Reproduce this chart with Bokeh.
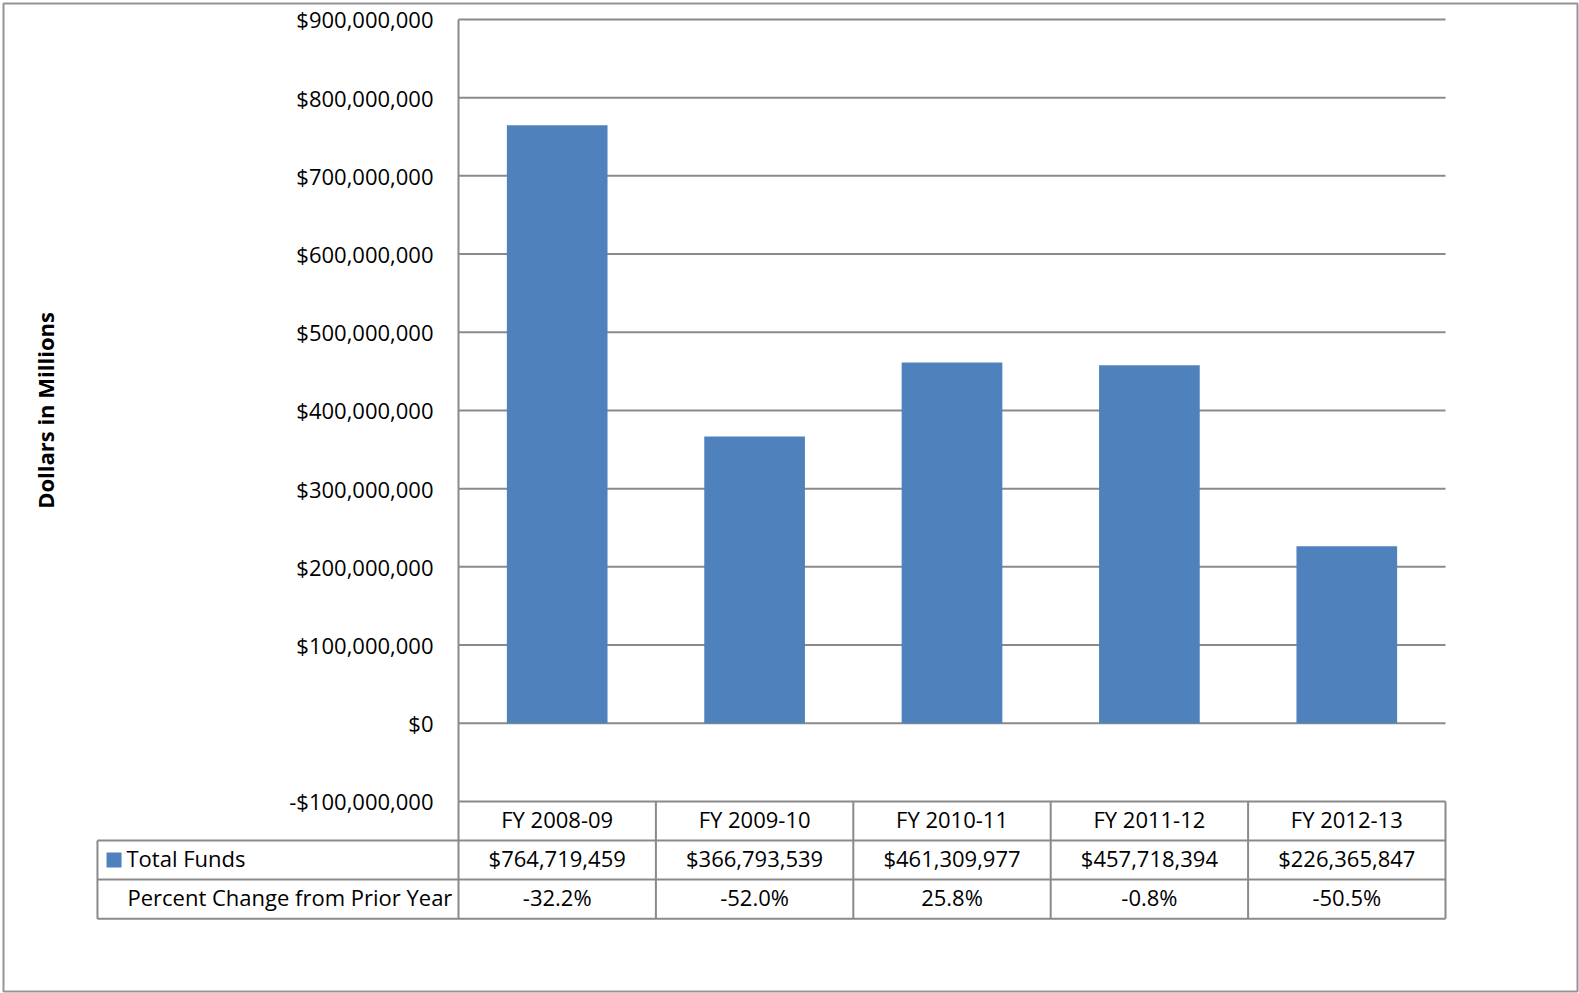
from bokeh.plotting import figure
from bokeh.models import Range1d, LinearAxis, FixedTicker
from bokeh.embed import file_html
from bokeh.resources import INLINE
from bokeh.core.properties import value

# ---------------- data ----------------
categories = ["FY 2008-09", "FY 2009-10", "FY 2010-11", "FY 2011-12", "FY 2012-13"]
total_funds = [764719459, 366793539, 461309977, 457718394, 226365847]
pct_change = [-32.2, -52.0, 25.8, -0.8, -50.5]
y_ticks = [-100000000, 0, 100000000, 200000000, 300000000, 400000000,
           500000000, 600000000, 700000000, 800000000, 900000000]
y_tick_labels = ["-$100,000,000", "$0", "$100,000,000", "$200,000,000", "$300,000,000",
                 "$400,000,000", "$500,000,000", "$600,000,000", "$700,000,000",
                 "$800,000,000", "$900,000,000"]
row_labels = ["Total Funds", "Percent Change from Prior Year"]
axis_title = "Dollars in Millions"

# ---------------- style / layout ----------------
FONT = "Open Sans"
FS = "22px"
GRID = "#8a8a8a"
BAR = "#4f81bd"
W, H = 1579, 993
# frame = whole chart area (inset by the chart border)
FL, FT, FR, FB = 3, 3, 2, 2
# where the value axis sits on screen and the scale of the plot
PX_X0, PX_PER_CAT = 458.0, 197.4
PX_Y0, PX_PER_UNIT = 722.7, 78.19 / 1e8

n = len(categories)
xc = [i + 0.5 for i in range(n)]           # category centres
ROW_H = 50000000                            # table row height in data units
T0 = y_ticks[0]                             # table top (-100M line)
row_mid = [T0 - ROW_H * (k + 0.5) for k in range(3)]
row_edges = [T0 - ROW_H * k for k in range(4)]
LEFT_COL = -1.829                           # table left edge (data units)

x_range = Range1d((FL - PX_X0) / PX_PER_CAT, (W - FR - PX_X0) / PX_PER_CAT)
y_range = Range1d(-(H - FB - PX_Y0) / PX_PER_UNIT, (PX_Y0 - FT) / PX_PER_UNIT)

p = figure(width=W, height=H, x_range=x_range, y_range=y_range,
           output_backend="svg", toolbar_location=None,
           x_axis_location=None, y_axis_location=None,
           min_border_left=FL, min_border_right=FR, min_border_top=FT, min_border_bottom=FB)
p.xgrid.visible = False
p.ygrid.visible = False
p.outline_line_color = "#959595"
p.outline_line_width = 2
p.background_fill_color = "white"
p.border_fill_color = "white"

# gridlines (only across the plot area)
p.segment(x0=[0] * len(y_ticks), x1=[n] * len(y_ticks), y0=y_ticks, y1=y_ticks,
          line_color=GRID, line_width=2)

# value axis
yaxis = LinearAxis(ticker=FixedTicker(ticks=y_ticks),
                   major_label_overrides={t: l for t, l in zip(y_ticks, y_tick_labels)},
                   axis_label=axis_title, fixed_location=0,
                   bounds=(y_ticks[0], y_ticks[-1]))
yaxis.axis_line_color = GRID
yaxis.axis_line_width = 2
yaxis.major_tick_line_color = None
yaxis.minor_tick_line_color = None
yaxis.major_label_standoff = 19
yaxis.major_label_text_font = FONT
yaxis.major_label_text_font_size = FS
yaxis.major_label_text_color = "black"
yaxis.axis_label_text_font = FONT
yaxis.axis_label_text_font_size = FS
yaxis.axis_label_text_font_style = "bold"
yaxis.axis_label_text_color = "black"
yaxis.axis_label_standoff = 226
p.add_layout(yaxis, "left")

# bars
bars = p.vbar(x=xc, top=total_funds, bottom=0, width=0.51,
              fill_color=BAR, line_color=None)

# data table under the plot
fund_txt = ["${:,}".format(v) for v in total_funds]
pct_txt = ["{:.1f}%".format(v) for v in pct_change]
for texts, ym in zip([categories, fund_txt, pct_txt], row_mid):
    p.text(x=xc, y=[ym] * n, text=texts, text_align="center", text_baseline="middle",
           y_offset=-2,
           text_font=value(FONT), text_font_size=FS, text_color="black")

# row headers
p.scatter(x=[LEFT_COL + 0.084], y=[row_mid[1]], marker="square", size=15,
          fill_color=BAR, line_color=None)
p.text(x=[LEFT_COL + 0.147, LEFT_COL + 0.152], y=row_mid[1:], text=row_labels,
       text_align="left", text_baseline="middle", y_offset=-2,
       text_font=value(FONT), text_font_size=FS, text_color="black")

# table rules
p.segment(x0=[LEFT_COL] * 3, x1=[n] * 3, y0=row_edges[1:], y1=row_edges[1:],
          line_color=GRID, line_width=2)
vx = [LEFT_COL] + list(range(0, n + 1))
vtop = [row_edges[1]] + [row_edges[0]] * (n + 1)
p.segment(x0=vx, x1=vx, y0=vtop, y1=[row_edges[3]] * len(vx),
          line_color=GRID, line_width=2)

open("out.html", "w").write(file_html(p, INLINE))
